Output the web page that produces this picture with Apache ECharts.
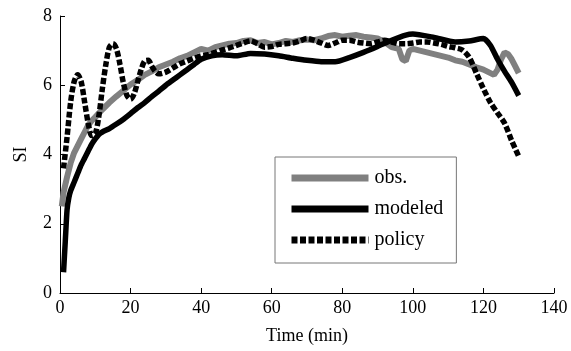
<!DOCTYPE html>
<html>
<head>
<meta charset="utf-8">
<script src="https://cdn.jsdelivr.net/npm/echarts@6/dist/echarts.min.js"></script>
<style>
  html, body { margin: 0; padding: 0; background: #fff; }
  #chart { width: 571px; height: 351px; }
</style>
</head>
<body>
<div id="chart"></div>
<script>
// observed SI (grey, noisy)
const obsTime = [0.5, 1, 2, 3, 4, 5, 6, 7, 8, 9, 10, 12, 14, 16, 18, 20, 22, 24, 26, 28, 30, 32, 34, 36, 38, 40,
  42, 44, 46, 48, 50, 52, 54, 56, 58, 60, 62, 64, 66, 68, 70, 72, 74, 76, 78, 80, 82, 84, 86, 88, 90, 92, 94, 96,
  97, 98, 99, 100, 102, 104, 106, 108, 110, 112, 114, 116, 118, 120, 121, 122, 123, 124, 125, 126, 127, 128, 129, 130]
const obsValue = [2.5, 2.9, 3.35, 3.75, 4.05, 4.25, 4.45, 4.65, 4.85, 4.98, 5.08, 5.3, 5.5, 5.68, 5.85, 6.02, 6.15,
  6.3, 6.4, 6.52, 6.6, 6.68, 6.78, 6.85, 6.95, 7.05, 7.0, 7.1, 7.15, 7.2, 7.22, 7.28, 7.3, 7.22, 7.25, 7.18, 7.22,
  7.28, 7.25, 7.3, 7.32, 7.3, 7.35, 7.42, 7.45, 7.4, 7.43, 7.45, 7.4, 7.38, 7.35, 7.25, 7.1, 7.05, 6.75, 6.7, 7.0,
  7.05, 7.0, 6.95, 6.9, 6.85, 6.8, 6.72, 6.68, 6.6, 6.52, 6.45, 6.4, 6.35, 6.3, 6.45, 6.75, 6.95, 6.9, 6.75, 6.55, 6.35]

// modeled SI (black solid)
const modelTime = [1, 1.5, 2, 2.5, 3, 4, 5, 6, 7, 8, 9, 10, 11, 12, 14, 16, 18, 20, 22, 24, 26, 28, 30, 32, 34, 36,
  38, 40, 43, 46, 50, 54, 58, 62, 66, 70, 74, 78, 82, 86, 90, 94, 98, 100, 106, 112, 116, 120, 122, 124, 126, 128, 130]
const modelValue = [0.6, 1.5, 2.4, 2.75, 2.95, 3.2, 3.45, 3.7, 3.9, 4.1, 4.3, 4.45, 4.58, 4.65, 4.75, 4.88, 5.02,
  5.18, 5.35, 5.5, 5.67, 5.83, 6.0, 6.15, 6.3, 6.45, 6.6, 6.75, 6.85, 6.88, 6.85, 6.92, 6.9, 6.85, 6.78, 6.72, 6.68,
  6.68, 6.8, 6.95, 7.12, 7.3, 7.45, 7.48, 7.38, 7.25, 7.28, 7.35, 7.15, 6.75, 6.4, 6.08, 5.7]

// policy SI (black dotted)
const policyTime = [1, 2, 3, 4, 5, 6, 7, 8, 9, 10, 11, 12, 13, 14, 15, 16, 17, 18, 19, 20, 21, 22, 23, 24, 25, 26,
  27, 28, 30, 32, 34, 36, 38, 40, 42, 44, 46, 48, 50, 52, 54, 56, 58, 60, 62, 64, 66, 68, 70, 72, 74, 76, 78, 80,
  82, 84, 86, 88, 90, 92, 94, 96, 98, 100, 102, 104, 106, 108, 110, 112, 114, 116, 118, 120, 122, 124, 126, 128, 130]
const policyValue = [3.6, 4.5, 5.5, 6.1, 6.3, 6.1, 5.5, 4.9, 4.55, 4.6, 5.1, 5.9, 6.6, 7.1, 7.2, 7.05, 6.6, 6.05,
  5.7, 5.6, 5.75, 6.1, 6.45, 6.7, 6.72, 6.55, 6.4, 6.33, 6.38, 6.5, 6.62, 6.7, 6.78, 6.85, 6.88, 6.95, 7.02, 7.08,
  7.15, 7.22, 7.28, 7.2, 7.1, 7.12, 7.18, 7.2, 7.22, 7.28, 7.35, 7.3, 7.22, 7.15, 7.22, 7.3, 7.3, 7.25, 7.22, 7.2,
  7.25, 7.3, 7.25, 7.2, 7.2, 7.22, 7.25, 7.25, 7.22, 7.18, 7.12, 7.08, 7.02, 6.8, 6.35, 5.9, 5.5, 5.2, 4.9, 4.4, 3.95]

const seriesNames = ['obs.', 'modeled', 'policy']

const pair = (xs, ys) => xs.map((x, i) => [x, ys[i]])

const font = 'Liberation Serif'

const axisCommon = {
  axisLine: { show: true, lineStyle: { color: '#000', width: 1 } },
  axisTick: { show: true, inside: true, length: 5, lineStyle: { color: '#000' } },
  splitLine: { show: false },
  axisLabel: { color: '#000', fontFamily: font, fontSize: 18 },
  nameLocation: 'middle',
  nameTextStyle: { color: '#000', fontFamily: font, fontSize: 18 }
}

const myChart = echarts.init(document.getElementById('chart'), null, { renderer: 'canvas' })

myChart.setOption({
  animation: false,
  backgroundColor: '#fff',
  grid: { left: 60, right: 17, top: 16, bottom: 58 },
  xAxis: {
    ...axisCommon,
    type: 'value',
    min: 0,
    max: 140,
    interval: 20,
    name: 'Time (min)',
    nameGap: 34,
    axisLabel: { ...axisCommon.axisLabel, margin: 6 }
  },
  yAxis: {
    ...axisCommon,
    type: 'value',
    min: 0,
    max: 8,
    interval: 2,
    name: 'SI',
    nameGap: 30,
    axisLabel: { ...axisCommon.axisLabel, margin: 8 }
  },
  legend: {
    orient: 'vertical',
    left: 275,
    top: 157,
    padding: [11, 13, 13, 13],
    itemWidth: 77,
    itemHeight: 14,
    itemGap: 11,
    borderColor: '#777',
    borderWidth: 1,
    backgroundColor: '#fff',
    // 图例线宽默认被限制为 2，这里显式给出；符号隐藏
    lineStyle: { width: 7, cap: 'butt' },
    itemStyle: { opacity: 0 },
    textStyle: { color: '#000', fontFamily: font, fontSize: 20, padding: [0, 0, 0, 1] },
    data: seriesNames
  },
  series: [
    {
      name: seriesNames[0],
      type: 'line',
      symbol: 'none',
      color: '#808080',
      lineStyle: { color: '#808080', width: 6 },
      data: pair(obsTime, obsValue)
    },
    {
      name: seriesNames[1],
      type: 'line',
      symbol: 'none',
      smooth: 0.2,
      color: '#000',
      lineStyle: { color: '#000', width: 5.5 },
      data: pair(modelTime, modelValue)
    },
    {
      name: seriesNames[2],
      type: 'line',
      symbol: 'none',
      smooth: 0.3,
      color: '#000',
      lineStyle: { color: '#000', width: 5.5, type: [6, 2.5] },
      data: pair(policyTime, policyValue)
    }
  ]
})
</script>
</body>
</html>
